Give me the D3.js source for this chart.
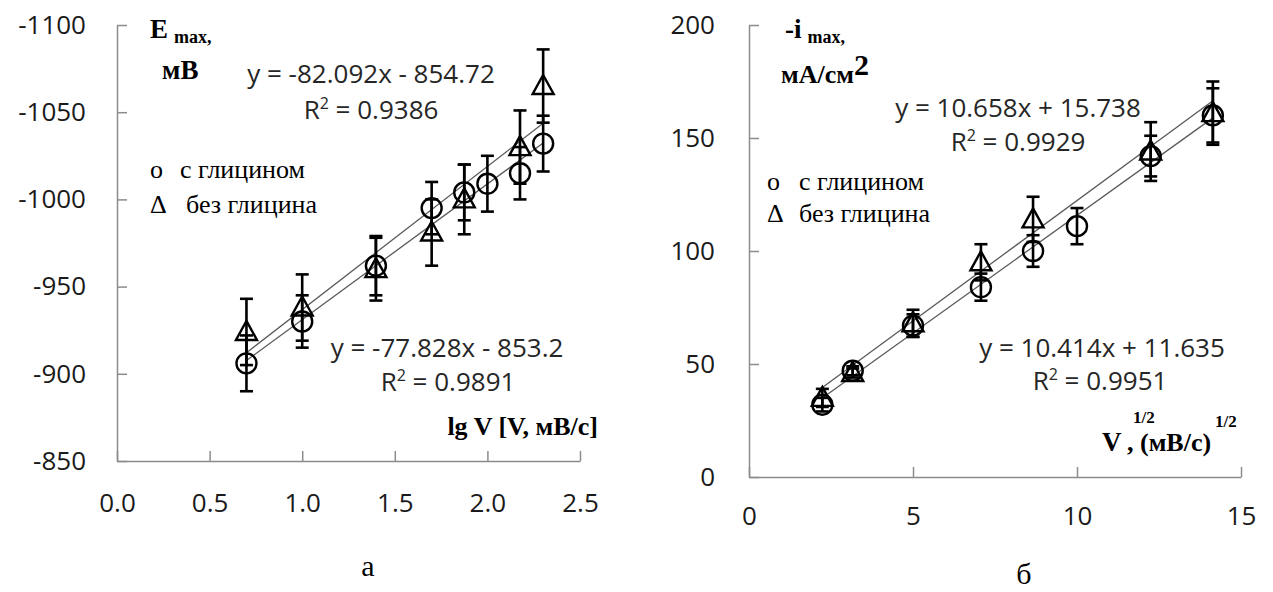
<!DOCTYPE html>
<html><head><meta charset="utf-8">
<script src="https://cdn.jsdelivr.net/npm/d3@7"></script>
<style>
html,body{margin:0;padding:0;background:#fff;}
svg{display:block;}
.tick text{font-family:"Open Sans",sans-serif;font-size:26px;fill:#1a1a1a;}
.axis path,.axis line{stroke:#8c8c8c;stroke-width:1.5;}
.eq{font-family:"Open Sans",sans-serif;font-size:26px;fill:#262626;}
.serif{font-family:"Liberation Serif","Times New Roman",serif;fill:#000;}
</style></head><body>
<svg id="chart" width="1273" height="592"></svg>
<script>
// ---- Panel а: E_max vs lg V ----
const lgV      = [0.699, 1.0, 1.398, 1.699, 1.875, 2.0, 2.176, 2.301];
const E_with   = [-906, -930, -962, -995, -1004, -1009, -1015, -1032];
const E_withEr = [16, 15, 17, 15, 16, 16, 15, 16];
const lgVno    = [0.699, 1.0, 1.398, 1.699, 1.875, 2.176, 2.301];
const E_no     = [-924, -938, -960, -981, -1000, -1030, -1065];
const E_noEr   = [19, 19, 18, 19, 20, 21, 21];
const aXTicks  = [0, 0.5, 1.0, 1.5, 2.0, 2.5];
const aYTicks  = [-1100, -1050, -1000, -950, -900, -850];
const aFitWith = [-77.828, -853.2];   // slope, intercept (с глицином)
const aFitNo   = [-82.092, -854.72];  // (без глицина)

// ---- Panel б: -i_max vs V^1/2 ----
const sqrtV    = [2.236, 3.162, 5.0, 7.071, 8.660, 10.0, 12.247, 14.142];
const I_with   = [32, 47, 67, 84, 100, 111, 142, 160];
const I_withEr = [3, 2, 5, 6, 7, 8, 9, 12];
const sqrtVno  = [2.236, 3.162, 5.0, 7.071, 8.660, 12.247, 14.142];
const I_no     = [35, 46, 68, 95, 114, 144, 161];
const I_noEr   = [4, 2, 6, 8, 10, 13, 14];
const bXTicks  = [0, 5, 10, 15];
const bYTicks  = [0, 50, 100, 150, 200];
const bFitWith = [10.414, 11.635];
const bFitNo   = [10.658, 15.738];

const svg = d3.select("#chart");
svg.append("rect").attr("width",1273).attr("height",592).attr("fill","#fff");
const hy = f => (v => f(v).replace("\u2212","-"));

function panel(cfg){
  const g = svg.append("g");
  const x = d3.scaleLinear().domain(cfg.xDom).range(cfg.xRange);
  const y = d3.scaleLinear().domain(cfg.yDom).range(cfg.yRange);
  const y0 = cfg.yRange[0], x0 = cfg.xRange[0];
  g.append("g").attr("class","axis").attr("transform",`translate(0,${y0})`)
    .call(d3.axisBottom(x).tickValues(cfg.xTicks).tickFormat(hy(cfg.xFmt))
      .tickSizeInner(-10).tickSizeOuter(0).tickPadding(cfg.xPad));
  g.append("g").attr("class","axis").attr("transform",`translate(${x0},0)`)
    .call(d3.axisLeft(y).tickValues(cfg.yTicks).tickFormat(hy(d3.format("d")))
      .tickSizeInner(-10).tickSizeOuter(0).tickPadding(cfg.yPad));
  // trend lines
  [cfg.fitWith, cfg.fitNo].forEach((f,i)=>{
    const xs = i===0 ? cfg.xsWith : cfg.xsNo;
    const a = d3.min(xs), b = d3.max(xs);
    g.append("line").attr("x1",x(a)).attr("y1",y(f[0]*a+f[1]))
      .attr("x2",x(b)).attr("y2",y(f[0]*b+f[1]))
      .attr("stroke","#5a5a5a").attr("stroke-width",1.3);
  });
  // error bars
  const cap = 6.5;
  function errs(xs, ys, es){
    xs.forEach((xv,i)=>{
      const eg = g.append("g").attr("stroke","#000").attr("stroke-width",2.6);
      const cx = x(xv), t = y(ys[i]+es[i]), bt = y(ys[i]-es[i]);
      eg.append("line").attr("x1",cx).attr("x2",cx).attr("y1",t).attr("y2",bt);
      eg.append("line").attr("x1",cx-cap).attr("x2",cx+cap).attr("y1",t).attr("y2",t);
      eg.append("line").attr("x1",cx-cap).attr("x2",cx+cap).attr("y1",bt).attr("y2",bt);
    });
  }
  errs(cfg.xsWith, cfg.ysWith, cfg.esWith);
  errs(cfg.xsNo, cfg.ysNo, cfg.esNo);
  // markers
  g.selectAll(null).data(cfg.xsWith.map((d,i)=>[d,cfg.ysWith[i]])).join("circle")
    .attr("cx",d=>x(d[0])).attr("cy",d=>y(d[1])).attr("r",10)
    .attr("fill","none").attr("stroke","#000").attr("stroke-width",2.4);
  g.selectAll(null).data(cfg.xsNo.map((d,i)=>[d,cfg.ysNo[i]])).join("path")
    .attr("transform",d=>`translate(${x(d[0])},${y(d[1])})`)
    .attr("d","M0,-11 L10.5,8 L-10.5,8 Z")
    .attr("fill","none").attr("stroke","#000").attr("stroke-width",2.4).attr("stroke-linejoin","miter");
  return g;
}

panel({xDom:[0,2.5], xRange:[117,580], yDom:[-850,-1100], yRange:[461,25],
  xTicks:aXTicks, yTicks:aYTicks, xFmt:d3.format(".1f"), xPad:33, yPad:31,
  xsWith:lgV, ysWith:E_with, esWith:E_withEr.map(v=>-v),
  xsNo:lgVno, ysNo:E_no, esNo:E_noEr.map(v=>-v),
  fitWith:aFitWith, fitNo:aFitNo});

panel({xDom:[0,15], xRange:[749,1241], yDom:[0,200], yRange:[477,25],
  xTicks:bXTicks, yTicks:bYTicks, xFmt:d3.format("d"), xPad:30, yPad:34,
  xsWith:sqrtV, ysWith:I_with, esWith:I_withEr,
  xsNo:sqrtVno, ysNo:I_no, esNo:I_noEr,
  fitWith:bFitWith, fitNo:bFitNo});

// ---- annotations ----
function txt(x,y,s,cls,anchor){ return svg.append("text").attr("x",x).attr("y",y).attr("class",cls).attr("text-anchor",anchor||"start").text(s); }
function r2(x,y,val){
  const t = svg.append("text").attr("x",x).attr("y",y).attr("class","eq").attr("text-anchor","middle");
  t.append("tspan").text("R");
  t.append("tspan").attr("font-size",16).attr("dy",-10).text("2");
  t.append("tspan").attr("dy",10).text(" = " + val);
}

// panel а
let t = svg.append("text").attr("x",150).attr("y",38).attr("class","serif").attr("font-weight","bold").attr("font-size",27);
t.append("tspan").text("E");
t.append("tspan").attr("font-size",18).attr("dx",6).attr("dy",5).text("max,");
txt(162,79,"мВ","serif").attr("font-weight","bold").attr("font-size",27);
txt(371,83,"y = -82.092x - 854.72","eq","middle");
r2(371,119,"0.9386");
txt(150,178,"о","serif").attr("font-size",26);
txt(180,178,"с глицином","serif").attr("font-size",26);
txt(150,213,"Δ","serif").attr("font-size",26);
txt(186,213,"без глицина","serif").attr("font-size",26);
txt(447,357,"y = -77.828x - 853.2","eq","middle");
r2(448,391,"0.9891");
txt(598,435,"lg V [V, мВ/с]","serif","end").attr("font-weight","bold").attr("font-size",26);
txt(368,576,"а","serif","middle").attr("font-size",30);

// panel б
t = svg.append("text").attr("x",785).attr("y",38).attr("class","serif").attr("font-weight","bold").attr("font-size",27);
t.append("tspan").text("-i");
t.append("tspan").attr("font-size",18).attr("dx",6).attr("dy",5).text("max,");
t = svg.append("text").attr("x",781).attr("y",83).attr("class","serif").attr("font-weight","bold").attr("font-size",26);
t.append("tspan").text("мА/см");
t.append("tspan").attr("font-size",30).attr("dy",-8).text("2");
txt(1018,117,"y = 10.658x + 15.738","eq","middle");
r2(1018,151,"0.9929");
txt(767,190,"о","serif").attr("font-size",26);
txt(799,190,"с глицином","serif").attr("font-size",26);
txt(767,222,"Δ","serif").attr("font-size",26);
txt(799,222,"без глицина","serif").attr("font-size",26);
txt(1102,357,"y = 10.414x + 11.635","eq","middle");
r2(1100,390,"0.9951");
txt(1102,451,"V","serif").attr("font-weight","bold").attr("font-size",27);
txt(1133,423,"1/2","serif").attr("font-weight","bold").attr("font-size",17);
txt(1127,451,", (мВ/с)","serif").attr("font-weight","bold").attr("font-size",26);
txt(1215,427,"1/2","serif").attr("font-weight","bold").attr("font-size",17);
txt(1024,584,"б","serif","middle").attr("font-size",30);
</script>
</body></html>
